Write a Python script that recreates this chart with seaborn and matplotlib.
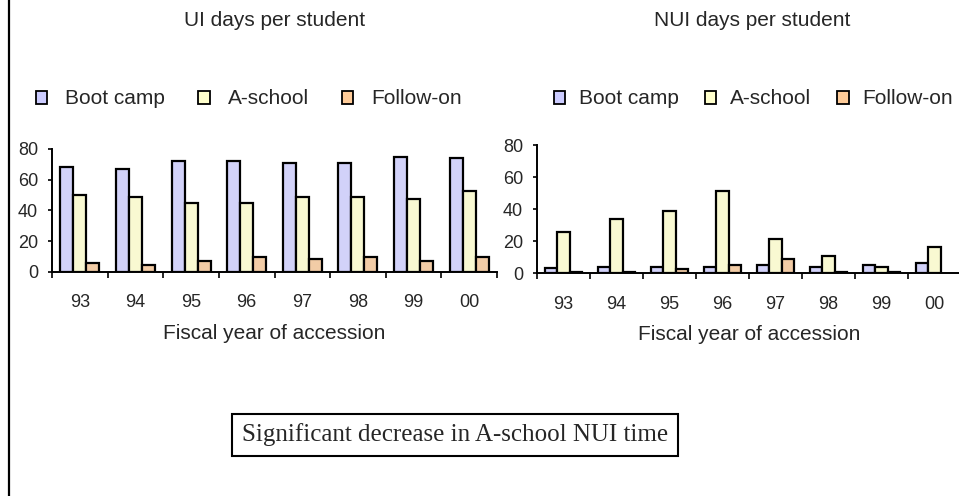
import numpy as np
import pandas as pd
import matplotlib
matplotlib.use("Agg")
import matplotlib.pyplot as plt
from matplotlib.patches import Patch
from matplotlib.lines import Line2D
import seaborn as sns

years = ["93", "94", "95", "96", "97", "98", "99", "00"]
phases = ["Boot camp", "A-school", "Follow-on"]

ui_boot = [68, 67, 72.5, 72.5, 71, 71, 75, 74]
ui_aschool = [50, 49, 45, 45, 49, 49, 47.5, 53]
ui_follow = [6, 4.5, 7, 10, 8.5, 10, 7, 10]

nui_boot = [3, 4, 4, 4, 5, 4, 5, 6.5]
nui_aschool = [25.5, 34, 39, 51.5, 21.5, 10.5, 4, 16.5]
nui_follow = [1, 1, 2.5, 5, 9, 1, 1, np.nan]

colors = ["#CCCCFF", "#FFFFCC", "#FFCC99"]

titles = ["UI days per student", "NUI days per student"]
xlab = "Fiscal year of accession"
note = "Significant decrease in A-school NUI time"


def long_df(boot, asch, follow):
    rows = []
    for i, y in enumerate(years):
        for ph, vals in zip(phases, [boot, asch, follow]):
            rows.append({"year": y, "phase": ph, "days": vals[i]})
    return pd.DataFrame(rows)


df_ui = long_df(ui_boot, ui_aschool, ui_follow)
df_nui = long_df(nui_boot, nui_aschool, nui_follow)

sns.set_style("white")
plt.rcParams["font.family"] = ["Liberation Sans", "DejaVu Sans"]

W, H = 959, 496
fig = plt.figure(figsize=(W / 100, H / 100), dpi=100)


def fx(px):
    return px / W


def fy(py):
    return 1 - py / H


axL = fig.add_axes([fx(52), fy(272), fx(445), (272 - 149) / H])
axR = fig.add_axes([fx(537), fy(273.3), fx(424), (273.3 - 145) / H])

for ax, df in [(axL, df_ui), (axR, df_nui)]:
    sns.barplot(data=df, x="year", y="days", hue="phase", order=years,
                hue_order=phases, palette=colors, width=0.7,
                edgecolor="black", linewidth=1.6, legend=False, ax=ax,
                errorbar=None)
    ax.set_ylim(0, 80)
    ax.set_xlim(-0.5, 7.5)
    ax.set_yticks([0, 20, 40, 60, 80])
    ax.set_ylabel("")
    ax.set_xlabel(xlab, fontsize=15, labelpad=9)
    for s in ["top", "right"]:
        ax.spines[s].set_visible(False)
    for s in ["left", "bottom"]:
        ax.spines[s].set_color("black")
        ax.spines[s].set_linewidth(1.4)
    ax.set_xticks(np.arange(-0.5, 8.0, 1.0), minor=True)
    ax.tick_params(axis="x", which="major", length=0, pad=16, labelsize=13)
    ax.tick_params(axis="x", which="minor", length=4, width=1.2,
                   direction="out", color="black", bottom=True)
    ax.tick_params(axis="y", which="major", length=3, width=1.2,
                   direction="out", color="black", left=True, pad=7,
                   labelsize=13)
    ax.patch.set_alpha(0)

fig.text(fx(275), fy(20), titles[0], ha="center", va="center", fontsize=15)
fig.text(fx(752), fy(20), titles[1], ha="center", va="center", fontsize=15)

handles = [Patch(facecolor=c, edgecolor="black", linewidth=1.3) for c in colors]

fig.legend(handles, phases, loc="center left",
           bbox_to_anchor=(fx(36), fy(99)), bbox_transform=fig.transFigure,
           ncol=3, frameon=False, borderpad=0, borderaxespad=0,
           handlelength=0.55, handleheight=0.6, handletextpad=0.85,
           columnspacing=1.6, fontsize=15)
fig.legend(handles, phases, loc="center left",
           bbox_to_anchor=(fx(554), fy(99)), bbox_transform=fig.transFigure,
           ncol=3, frameon=False, borderpad=0, borderaxespad=0,
           handlelength=0.55, handleheight=0.6, handletextpad=0.65,
           columnspacing=1.25, fontsize=15)

fig.text(fx(455), fy(435), note, ha="center", va="center", fontsize=18,
         family=["Liberation Serif", "DejaVu Serif"],
         bbox=dict(boxstyle="square,pad=0.38", facecolor="white",
                   edgecolor="black", linewidth=1.5))

fig.add_artist(Line2D([fx(9), fx(9)], [0, 1], color="black", linewidth=1.6,
                      transform=fig.transFigure))

fig.savefig("out.png", dpi=100)
